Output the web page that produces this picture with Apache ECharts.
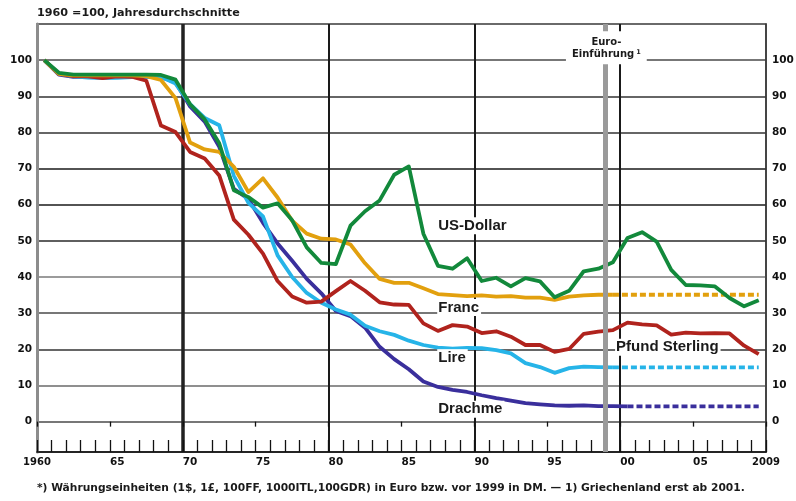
<!DOCTYPE html>
<html><head><meta charset="utf-8">
<script src="https://cdn.jsdelivr.net/npm/echarts@6/dist/echarts.min.js"></script>
<style>html,body{margin:0;padding:0;background:#fff}#c{width:796px;height:501px}</style>
</head><body><div id="c"></div>
<script>
// ---- data (annual averages, 1960 = 100) ----
const years = [1960,1961,1962,1963,1964,1965,1966,1967,1968,1969,
  1970,1971,1972,1973,1974,1975,1976,1977,1978,1979,
  1980,1981,1982,1983,1984,1985,1986,1987,1988,1989,
  1990,1991,1992,1993,1994,1995,1996,1997,1998,1999,
  2000,2001,2002,2003,2004,2005,2006,2007,2008,2009];
const usDollar = [100,96.5,96.0,96.0,96.0,96.0,96.0,96.0,95.9,94.6,
  87.8,83.6,77.0,64.0,62.1,59.2,60.4,55.7,48.2,43.9,
  43.6,54.2,58.2,61.2,68.3,70.6,52.0,43.1,42.3,45.2,
  38.9,39.8,37.4,39.7,38.8,34.4,36.2,41.6,42.3,44.1,
  50.8,52.4,49.8,42.0,37.8,37.7,37.4,34.2,31.9,33.6];
const franc = [100,96.2,95.8,95.8,95.8,95.8,95.8,95.6,94.5,89.5,
  77.2,75.3,74.6,70.5,63.5,67.3,62.0,55.6,52.0,50.6,
  50.4,49.0,43.8,39.5,38.4,38.4,36.9,35.3,35.0,34.7,
  34.9,34.6,34.7,34.3,34.3,33.7,34.6,34.9,35.1,35.1,
  35.1,35.1,35.1,35.1,35.1,35.1,35.1,35.1,35.1,35.1];
const lire = [100,96.2,95.5,95.2,95.0,95.1,95.3,95.4,95.4,93.5,
  87.8,84.0,82.0,68.0,60.5,56.8,46.0,40.0,35.6,32.9,
  31.0,29.6,26.5,25.0,24.0,22.4,21.2,20.5,20.2,20.4,
  20.3,19.8,18.9,16.2,15.1,13.5,14.8,15.2,15.1,15.0,
  15.0,15.0,15.0,15.0,15.0,15.0,15.0,15.0,15.0,15.0];
const drachme = [100,96.0,95.4,95.4,95.4,95.4,95.4,95.4,95.3,93.9,
  87.2,83.0,76.0,64.4,61.6,55.0,49.3,44.5,39.5,35.5,
  30.6,29.2,26.0,20.7,17.3,14.5,11.1,9.6,8.8,8.2,
  7.3,6.5,5.8,5.1,4.8,4.5,4.4,4.5,4.3,4.3,
  4.2,4.2,4.2,4.2,4.2,4.2,4.2,4.2,4.2,4.2];
const pfund = [100,96.2,95.6,95.5,95.0,95.5,95.4,94.3,81.9,80.1,
  74.6,72.8,68.1,55.9,51.7,46.5,38.9,34.6,32.9,33.2,
  36.1,38.9,36.2,33.0,32.4,32.3,27.2,25.1,26.7,26.3,
  24.5,25.0,23.5,21.2,21.2,19.3,20.1,24.3,24.9,25.3,
  27.4,26.9,26.6,24.1,24.6,24.4,24.5,24.4,21.0,18.7];
const yTicks = [0,10,20,30,40,50,60,70,80,90,100];
const xLabelYears = [1965,1970,1975,1980,1985,1990,1995,2000,2005];
const xLabels = ['65','70','75','80','85','90','95','00','05'];
const xEndYears = [1960,2010];
const xEndLabels = ['1960','2009'];
const euroYear = 1999;

// ---- helpers ----
const X_MIN = 1960, X_MAX = 2010, Y_MIN = -8.4, Y_MAX = 110;
function seg(values, fromYear, toYear) {
  const out = [];
  years.forEach((y, i) => { if (y >= fromYear && y <= toYear) out.push([y + 0.5, values[i]]); });
  return out;
}
const SMALL = 'DejaVu Sans';
const BIG = 'Liberation Sans';
const C = { dollar:'#12893b', franc:'#e2a00e', lire:'#26b4e8', drachme:'#3a2f9c', pfund:'#b0231d' };
const LW = 3.8;
const dash = [6, 3];

function lbl(text, coord, extra) {
  return Object.assign({
    coord: coord, symbolSize: 0,
    label: { show: true, position: 'right', distance: 0, formatter: text,
      fontFamily: BIG, fontWeight: 'bold', fontSize: 15, color: '#1a1a1a',
      backgroundColor: '#fff', padding: [1, 2, 1, 1] }
  }, extra || {});
}

function line(name, data, color, dashed, extra) {
  return Object.assign({
    name: name, type: 'line', xAxisIndex: 0, yAxisIndex: 0, data: data,
    showSymbol: false, symbol: 'none', smooth: false, silent: true,
    lineStyle: { color: color, width: LW, type: dashed ? dash : 'solid', cap: 'butt', join: 'round' },
    emphasis: { disabled: true }
  }, extra || {});
}

const chart = echarts.init(document.getElementById('c'), null, { renderer: 'canvas' });
const hiddenX = (o) => Object.assign({ type:'value', gridIndex:0, min:X_MIN, max:X_MAX, position:'bottom',
  axisLine:{show:false}, axisTick:{show:false}, axisLabel:{show:false}, splitLine:{show:false} }, o);

const option = {
  animation: false,
  textStyle: { fontFamily: SMALL },
  title: [
    { text: '1960 =100, Jahresdurchschnitte', left: 37, top: 8, padding: 0,
      textStyle: { fontFamily: SMALL, fontWeight: 'bold', fontSize: 11.2, color: '#1a1a1a' } },
    { text: '*) Währungseinheiten (1$, 1£, 100FF, 1000ITL,100GDR) in Euro bzw. vor 1999 in DM. — 1) Griechenland erst ab 2001.',
      left: 37, top: 483, padding: 0,
      textStyle: { fontFamily: SMALL, fontWeight: 'bold', fontSize: 10.7, color: '#1a1a1a' } }
  ],
  grid: { left: 37, right: 30, top: 24, bottom: 49, containLabel: false, outerBoundsMode: 'none',
    show: true, borderColor: '#3a3a3a', borderWidth: 1.5, backgroundColor: 'transparent' },
  xAxis: [
    { type:'value', gridIndex:0, min:X_MIN, max:X_MAX, interval:1, position:'bottom',
      axisLine:{ show:true, onZero:false, lineStyle:{ color:'#111', width:1.5 } },
      axisTick:{ show:true, inside:true, length:12, lineStyle:{ color:'#111', width:1.3 } },
      axisLabel:{ show:true, customValues: xLabelYears, align:'left', margin:5,
        fontFamily: SMALL, fontWeight:'bold', fontSize:10.5, color:'#111',
        formatter: v => xLabels[xLabelYears.indexOf(v)] ?? '' },
      splitLine:{ show:false } },
    hiddenX({ axisLabel:{ show:true, customValues: xEndYears, align:'center', margin:5,
      fontFamily: SMALL, fontWeight:'bold', fontSize:10, color:'#111',
      formatter: v => xEndLabels[xEndYears.indexOf(v)] ?? '' } }),
    hiddenX({ interval:5, axisTick:{ show:true, inside:false, length:5, lineStyle:{ color:'#111', width:1.3 } } }),
    hiddenX({ axisTick:{ show:false, customValues:[1980,1990,2000] },
      splitLine:{ show:true, lineStyle:{ color:'#1a1a1a', width:2 } } }),
    hiddenX({ axisTick:{ show:false, customValues:[1970] },
      splitLine:{ show:true, lineStyle:{ color:'#222', width:3.5 } } })
  ],
  yAxis: [
    { type:'value', gridIndex:0, min:Y_MIN, max:Y_MAX, position:'left',
      axisLine:{ show:true, onZero:false, lineStyle:{ color:'#8c8c8c', width:3 } },
      axisTick:{ show:false, customValues: yTicks },
      axisLabel:{ show:true, customValues: yTicks, margin:5, fontFamily: SMALL, fontWeight:'bold', fontSize:10.5, color:'#111' },
      splitLine:{ show:true, lineStyle:{ color:['#4a4a4a','#6a6a6a','#333','#4a4a4a','#7a7a7a','#2a2a2a','#1a1a1a','#1a1a1a','#333','#333','#4a4a4a'], width:1.7 } } },
    { type:'value', gridIndex:0, min:Y_MIN, max:Y_MAX, position:'right',
      axisLine:{ show:true, onZero:false, lineStyle:{ color:'#3a3a3a', width:1.5 } },
      axisTick:{ show:false, customValues: yTicks },
      axisLabel:{ show:true, customValues: yTicks, margin:6, fontFamily: SMALL, fontWeight:'bold', fontSize:10.5, color:'#111' },
      splitLine:{ show:false } }
  ],
  series: [
    line('Drachme', seg(drachme, 1960, 2000), C.drachme, false, {
      markLine: { silent:true, symbol:['none','none'], label:{show:false},
        lineStyle:{ color:'#9a9a9a', width:5, type:'solid' }, data:[{ xAxis: euroYear }] },
      markPoint: { silent:true, data:[ lbl('Drachme', [1987.45, 3.4]) ] } }),
    line('Drachme-fix', seg(drachme, 2000, 2009), C.drachme, true),
    line('Lire', seg(lire, 1960, 1999), C.lire, false, {
      markPoint: { silent:true, data:[ lbl('Lire', [1987.45, 17.7]) ] } }),
    line('Lire-fix', seg(lire, 1999, 2009), C.lire, true),
    line('Pfund Sterling', seg(pfund, 1960, 2009), C.pfund, false, {
      markPoint: { silent:true, data:[ lbl('Pfund Sterling', [1999.65, 20.6]) ] } }),
    line('Franc', seg(franc, 1960, 1999), C.franc, false, {
      markPoint: { silent:true, data:[ lbl('Franc', [1987.45, 31.6]) ] } }),
    line('Franc-fix', seg(franc, 1999, 2009), C.franc, true),
    line('US-Dollar', seg(usDollar, 1960, 2009), C.dollar, false, {
      markPoint: { silent:true, data:[
        lbl('US-Dollar', [1987.45, 54.2]),
        { coord:[euroYear + 0.05, 103.4], symbolSize:0,
          label:{ show:true, position:'inside', formatter:'{a|Euro-}\n{a|Einführung}{s|1}',
            backgroundColor:'#fff', padding:[5,6,4,6], align:'center', verticalAlign:'middle',
            rich:{ a:{ fontFamily: SMALL, fontWeight:'bold', fontSize:10, color:'#1a1a1a', lineHeight:12, align:'center' },
                   s:{ fontFamily: SMALL, fontWeight:'bold', fontSize:6.5, color:'#1a1a1a', verticalAlign:'top', padding:[0,0,4,2] } } } }
      ] } })
  ]
};
chart.setOption(option);
</script>
</body></html>
